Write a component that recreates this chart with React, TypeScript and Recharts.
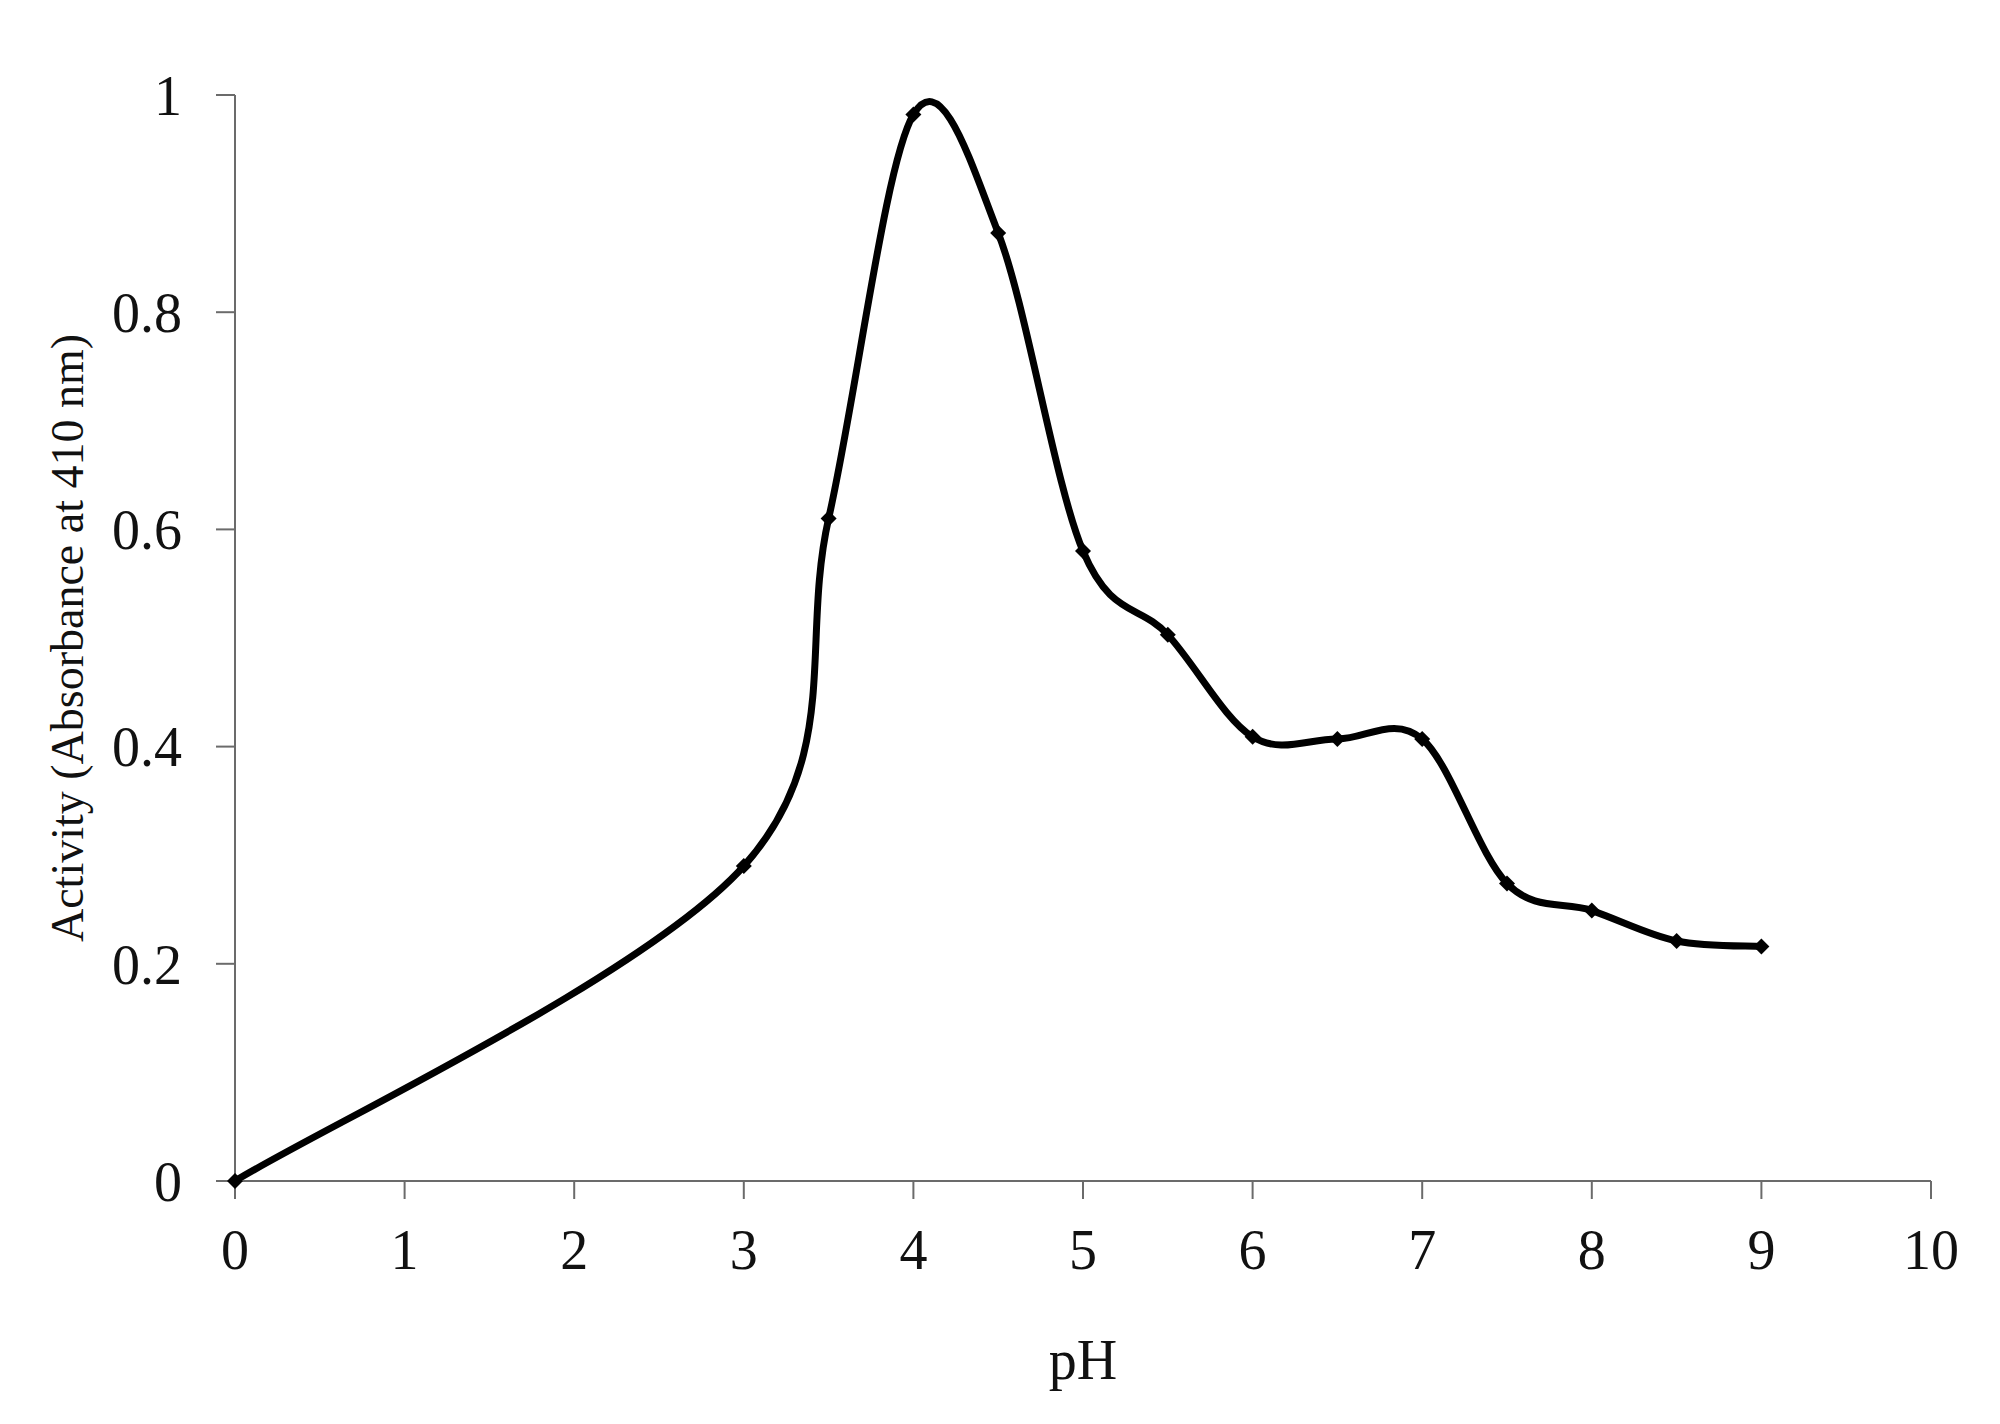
import React from "react";
import { LineChart, Line, XAxis, YAxis } from "recharts";

const phValues = [0, 3, 3.5, 4, 4.5, 5, 5.5, 6, 6.5, 7, 7.5, 8, 8.5, 9];
const activityValues = [0, 0.29, 0.61, 0.982, 0.873, 0.58, 0.503, 0.409, 0.407, 0.407, 0.274, 0.249, 0.221, 0.216];
const xTicks = [0, 1, 2, 3, 4, 5, 6, 7, 8, 9, 10];
const yTicks = [0, 0.2, 0.4, 0.6, 0.8, 1];
const yTickLabels = ["0", "0.2", "0.4", "0.6", "0.8", "1"];

const data = phValues.map((ph, i) => ({ ph, activity: activityValues[i] }));

function excelSmooth(context: any) {
  let pts: [number, number][] = [];
  return {
    areaStart() {},
    areaEnd() {},
    lineStart() {
      pts = [];
    },
    lineEnd() {
      const n = pts.length;
      if (n === 0) return;
      context.moveTo(pts[0][0], pts[0][1]);
      const t = 1 / 6;
      for (let i = 0; i < n - 1; i++) {
        const p0 = pts[Math.max(i - 1, 0)];
        const p1 = pts[i];
        const p2 = pts[i + 1];
        const p3 = pts[Math.min(i + 2, n - 1)];
        context.bezierCurveTo(
          p1[0] + (p2[0] - p0[0]) * t,
          p1[1] + (p2[1] - p0[1]) * t,
          p2[0] - (p3[0] - p1[0]) * t,
          p2[1] - (p3[1] - p1[1]) * t,
          p2[0],
          p2[1]
        );
      }
    },
    point(x: number, y: number) {
      pts.push([+x, +y]);
    },
  };
}

const Diamond = (props: any) => {
  const { cx, cy, index } = props;
  if (cx == null || cy == null) return <g key={`d-${index}`} />;
  const s = 8;
  return (
    <path
      key={`d-${index}`}
      d={`M${cx},${cy - s}L${cx + s},${cy}L${cx},${cy + s}L${cx - s},${cy}Z`}
      fill="#000"
    />
  );
};

const axisColor = "#6b6b6b";
const tickFont = { fontFamily: "Liberation Serif", fontSize: 56, fill: "#111" };

export default function App() {
  return (
    <div style={{ position: "absolute", left: 0, top: 0, width: 2000, height: 1424, background: "#fff" }}>
      <LineChart width={2000} height={1424} data={data} margin={{ top: 95, right: 69, bottom: 93, left: 0 }}>
        <XAxis
          dataKey="ph"
          type="number"
          domain={[0, 10]}
          ticks={xTicks}
          interval={0}
          height={150}
          stroke={axisColor}
          strokeWidth={2}
          tickSize={18}
          tickMargin={30}
          tick={tickFont}
          tickLine={{ stroke: axisColor, strokeWidth: 2 }}
          label={{
            value: "pH",
            position: "insideBottom",
            offset: -48,
            style: { fontFamily: "Liberation Serif", fontSize: 56, fill: "#111" },
          }}
        />
        <YAxis
          type="number"
          domain={[0, 1]}
          ticks={yTicks}
          interval={0}
          width={235}
          stroke={axisColor}
          strokeWidth={2}
          tickSize={19}
          tickMargin={34}
          tick={tickFont}
          tickFormatter={(v: number) => yTickLabels[yTicks.indexOf(v)] ?? String(v)}
          tickLine={{ stroke: axisColor, strokeWidth: 2 }}
          label={{
            value: "Activity (Absorbance at 410 nm)",
            angle: -90,
            position: "insideLeft",
            offset: 67,
            style: { textAnchor: "middle", fontFamily: "Liberation Serif", fontSize: 46, fill: "#111" },
          }}
        />
        <Line
          dataKey="activity"
          type={excelSmooth as any}
          stroke="#000"
          strokeWidth={7}
          dot={Diamond}
          activeDot={false}
          isAnimationActive={false}
        />
      </LineChart>
    </div>
  );
}
